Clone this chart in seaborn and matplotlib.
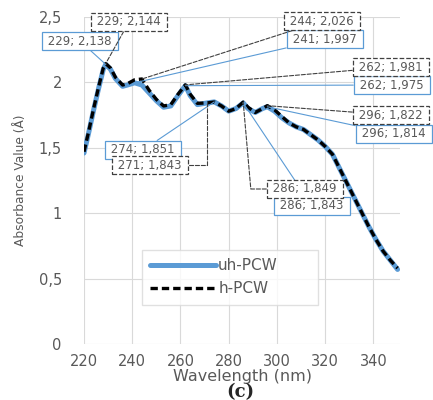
import matplotlib
matplotlib.use('Agg')
import matplotlib.pyplot as plt
import seaborn as sns
import pandas as pd

sns.set_style('white')
plt.rcParams['font.family'] = ['DejaVu Sans']

# Wavelength (nm) and absorbance for both samples
wavelength = [220, 222, 224, 226, 228, 229, 231, 233, 236, 238, 241, 244, 247, 250,
              253, 256, 259, 262, 264, 267, 271, 274, 277, 280, 283, 286, 288, 291,
              294, 296, 299, 302, 305, 308, 311, 314, 317, 320, 323, 326, 329, 332,
              335, 338, 341, 344, 347, 350]
uh_pcw = [1.46, 1.62, 1.79, 1.95, 2.10, 2.138, 2.10, 2.03, 1.97, 1.98, 1.997, 1.98,
          1.92, 1.86, 1.81, 1.82, 1.90, 1.975, 1.90, 1.83, 1.843, 1.851, 1.82, 1.78,
          1.80, 1.843, 1.80, 1.77, 1.80, 1.814, 1.78, 1.73, 1.69, 1.66, 1.64, 1.60,
          1.56, 1.51, 1.45, 1.34, 1.23, 1.12, 1.01, 0.90, 0.80, 0.71, 0.64, 0.57]
h_pcw = [1.47, 1.63, 1.80, 1.96, 2.11, 2.144, 2.11, 2.04, 1.98, 1.99, 2.02, 2.026,
         1.94, 1.87, 1.82, 1.83, 1.91, 1.981, 1.91, 1.84, 1.843, 1.85, 1.82, 1.78,
         1.80, 1.849, 1.81, 1.77, 1.80, 1.822, 1.79, 1.74, 1.69, 1.66, 1.64, 1.60,
         1.56, 1.51, 1.45, 1.34, 1.23, 1.12, 1.01, 0.90, 0.80, 0.71, 0.64, 0.58]

# annotated points: (wavelength, value)
uh_marks = [(229, 2.138), (241, 1.997), (262, 1.975), (274, 1.851), (286, 1.843), (296, 1.814)]
h_marks = [(229, 2.144), (244, 2.026), (262, 1.981), (271, 1.843), (286, 1.849), (296, 1.822)]

# label box centers in figure pixels (x, y from top)
uh_pos = [(80, 41), (325, 39), (392, 85), (143, 150), (312, 206), (394, 134)]
h_pos = [(129, 22), (322, 21), (391, 67), (150, 165), (305, 189), (391, 115)]
# leader style for the h labels (angled ones drop straight down from the point)
h_conn = ['arc3', 'arc3', 'arc3', 'angle,angleA=0,angleB=90,rad=0',
          'angle,angleA=0,angleB=95,rad=0', 'arc3']

BLUE = '#5B9BD5'
GRAY_TXT = '#595959'
GRID = '#D9D9D9'

df = pd.DataFrame({'wl': wavelength, 'uh': uh_pcw, 'h': h_pcw})

fig = plt.figure(figsize=(4.33, 4.0), dpi=100)
ax = fig.add_axes([84 / 433, 1 - 344 / 400, 316 / 433, 327 / 400])

sns.lineplot(data=df, x='wl', y='uh', ax=ax, color=BLUE, linewidth=3.6, label='uh-PCW')
sns.lineplot(data=df, x='wl', y='h', ax=ax, color='black', linewidth=2.4,
             linestyle=(0, (2.2, 1.2)), label='h-PCW')

ax.set_xlim(220, 351)
ax.set_ylim(0, 2.5)
ax.set_xticks([220, 240, 260, 280, 300, 320, 340])
ax.set_yticks([0, 0.5, 1, 1.5, 2, 2.5])
ax.set_yticklabels(['0', '0,5', '1', '1,5', '2', '2,5'])
ax.tick_params(colors=GRAY_TXT, labelsize=10.5, length=0)
ax.tick_params(axis='y', pad=16)
ax.tick_params(axis='x', pad=7)
ax.grid(True, color=GRID, linewidth=0.8)
for s in ax.spines.values():
    s.set_visible(False)
ax.set_xlabel('Wavelength (nm)', fontsize=11.5, color=GRAY_TXT, labelpad=0)
ax.set_ylabel('Absorbance Value (Å)', fontsize=8.8, color=GRAY_TXT)
ax.yaxis.set_label_coords(-0.18, 0.5)


def to_fig(p):
    return (p[0] / 433, 1 - p[1] / 400)


for (x, y), pos in zip(uh_marks, uh_pos):
    txt = f' {x}; {y:.3f} '.replace('.', ',')
    ax.annotate(txt, xy=(x, y), xycoords='data', xytext=to_fig(pos), textcoords='figure fraction',
                ha='center', va='center', fontsize=8.5, color=GRAY_TXT, annotation_clip=False,
                bbox=dict(boxstyle='square,pad=0.22', fc='white', ec=BLUE, lw=0.9),
                arrowprops=dict(arrowstyle='-', color=BLUE, lw=0.8, shrinkA=0, shrinkB=0))

for (x, y), pos, conn in zip(h_marks, h_pos, h_conn):
    txt = f' {x}; {y:.3f} '.replace('.', ',')
    ax.annotate(txt, xy=(x, y), xycoords='data', xytext=to_fig(pos), textcoords='figure fraction',
                ha='center', va='center', fontsize=8.5, color=GRAY_TXT, annotation_clip=False,
                bbox=dict(boxstyle='square,pad=0.22', fc='white', ec='#404040', lw=0.9, ls='--'),
                arrowprops=dict(arrowstyle='-', color='#404040', lw=0.8, ls='--',
                                shrinkA=0, shrinkB=0, connectionstyle=conn))

leg = ax.legend(loc='lower left', bbox_to_anchor=(0.183, 0.12, 0.557, 0.15), mode='expand',
                handlelength=4.3, handletextpad=0.15, fontsize=11, frameon=True,
                fancybox=False, borderpad=0.55, labelspacing=0.55, borderaxespad=0)
leg.get_frame().set_edgecolor(GRID)
for t in leg.get_texts():
    t.set_color(GRAY_TXT)

fig.text(240 / 433, 1 - 392 / 400, '(c)', ha='center', va='center', fontsize=13,
         fontweight='bold', family='DejaVu Serif')

fig.savefig('out.png', dpi=100)
